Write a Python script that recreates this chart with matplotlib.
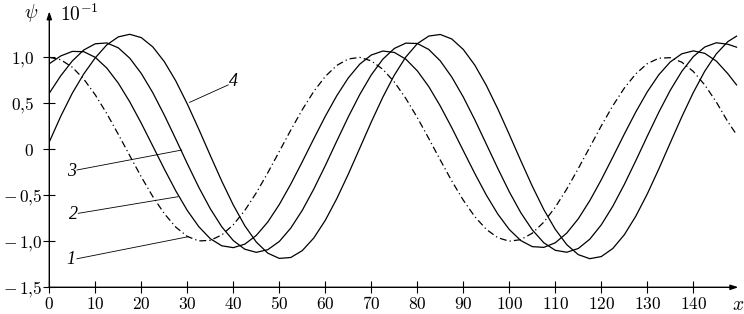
import matplotlib
matplotlib.use('Agg')
import matplotlib.pyplot as plt
import matplotlib.transforms as mtransforms
import numpy as np

plt.rcParams['mathtext.fontset'] = 'cm'
plt.rcParams['font.family'] = 'DejaVu Serif'

# sample points along x, every 2.5 units
x = list(np.arange(0, 150, 2.5)) + [149.4]

# curve 1 (dash-dot)
psi_1 = [1.000, 0.973, 0.892, 0.763, 0.591, 0.388, 0.163, -0.070, -0.300, -0.514,
         -0.699, -0.846, -0.947, -0.996, -0.990, -0.931, -0.820, -0.665, -0.473, -0.255,
         -0.023, 0.209, 0.431, 0.629, 0.792, 0.912, 0.982, 0.999, 0.961, 0.870,
         0.732, 0.553, 0.345, 0.117, -0.117, -0.345, -0.553, -0.732, -0.870, -0.961,
         -0.999, -0.982, -0.912, -0.792, -0.629, -0.431, -0.209, 0.023, 0.255, 0.473,
         0.665, 0.820, 0.931, 0.990, 0.996, 0.947, 0.846, 0.699, 0.514, 0.300,
         0.160]
# curve 2
psi_2 = [0.930, 1.015, 1.064, 1.061, 0.999, 0.883, 0.719, 0.515, 0.283, 0.035,
         -0.214, -0.452, -0.665, -0.841, -0.972, -1.049, -1.069, -1.031, -0.936, -0.790,
         -0.600, -0.378, -0.135, 0.115, 0.359, 0.583, 0.776, 0.926, 1.025, 1.068,
         1.053, 0.980, 0.853, 0.681, 0.470, 0.234, -0.015, -0.263, -0.497, -0.704,
         -0.872, -0.992, -1.058, -1.066, -1.016, -0.910, -0.755, -0.558, -0.331, -0.085,
         0.165, 0.406, 0.625, 0.810, 0.950, 1.038, 1.070, 1.043, 0.959, 0.822,
         0.700]
# curve 3
psi_3 = [0.610, 0.800, 0.960, 1.080, 1.147, 1.156, 1.103, 0.990, 0.824, 0.615,
         0.372, 0.111, -0.156, -0.413, -0.646, -0.843, -0.992, -1.086, -1.120, -1.091,
         -1.002, -0.856, -0.663, -0.432, -0.177, 0.090, 0.352, 0.596, 0.809, 0.979,
         1.096, 1.154, 1.150, 1.085, 0.961, 0.785, 0.568, 0.321, 0.057, -0.208,
         -0.462, -0.689, -0.876, -1.016, -1.098, -1.119, -1.078, -0.977, -0.821, -0.619,
         -0.382, -0.124, 0.143, 0.403, 0.642, 0.847, 1.007, 1.112, 1.158, 1.142,
         1.110]
# curve 4
psi_4 = [0.080, 0.360, 0.610, 0.820, 0.995, 1.135, 1.222, 1.250, 1.214, 1.113,
         0.953, 0.743, 0.493, 0.218, -0.067, -0.347, -0.606, -0.831, -1.008, -1.129,
         -1.186, -1.176, -1.101, -0.964, -0.772, -0.536, -0.270, 0.013, 0.297, 0.566,
         0.806, 1.003, 1.148, 1.231, 1.248, 1.199, 1.085, 0.915, 0.695, 0.439,
         0.161, -0.124, -0.401, -0.655, -0.870, -1.037, -1.145, -1.189, -1.166, -1.078,
         -0.929, -0.727, -0.485, -0.214, 0.071, 0.353, 0.617, 0.850, 1.037, 1.170,
         1.230]

xticks = list(range(0, 150, 10))
yticks = [-1.5, -1.0, -0.5, 0, 0.5, 1.0]
ytick_labels = [r'$-\,1{,}5$', r'$-\,1{,}0$', r'$-\,0{,}5$',
                '$0$', '$0{,}5$', '$1{,}0$']

# curve labels: text position and leader line (from, to)
labels = ['1', '2', '3', '4']
label_pos = [(4.7, -1.20), (5.2, -0.71), (4.9, -0.24), (40.0, 0.735)]
leader_from = [(6.0, -1.19), (6.3, -0.696), (6.0, -0.225), (38.9, 0.70)]
leader_to = [(30.2, -0.95), (28.0, -0.515), (28.8, -0.008), (30.5, 0.51)]

fig = plt.figure(figsize=(7.44, 3.14), dpi=100)
ax = fig.add_axes([49.3 / 744, 26.7 / 314, 690 / 744, 276 / 314])

ax.plot(x, psi_1, color='black', lw=0.9, linestyle=(0, (5.5, 2.5, 1, 2.5)))
for y in (psi_2, psi_3, psi_4):
    ax.plot(x, y, color='black', lw=0.9, solid_joinstyle='round')

for lab, p, a, b in zip(labels, label_pos, leader_from, leader_to):
    ax.plot([a[0], b[0]], [a[1], b[1]], color='black', lw=0.6)
    ax.text(p[0], p[1], lab, fontsize=13, fontstyle='italic',
            family='Liberation Serif', ha='center', va='center')

ax.set_xlim(0, 150)
ax.set_ylim(-1.5, 1.5)
for s in ax.spines.values():
    s.set_visible(False)

# axes with arrow heads
arrow = dict(arrowstyle='-|>,head_length=0.45,head_width=0.15', color='black',
             lw=1.0, mutation_scale=10, shrinkA=0, shrinkB=0)
ax.annotate('', xy=(149.8, -1.5), xytext=(0, -1.5), arrowprops=arrow,
            annotation_clip=False)
ax.annotate('', xy=(0, 1.5), xytext=(0, -1.5), arrowprops=arrow,
            annotation_clip=False)

ax.set_xticks(xticks)
ax.set_xticklabels(['$%d$' % t for t in xticks])
ax.set_yticks(yticks)
ax.tick_params(direction='inout', length=8, width=0.8, labelsize=12.5, pad=2)
ax.tick_params(axis='y', labelleft=False)

# y labels: negative ones sit close to the tick, positive ones further left
for v, lab in zip(yticks, ytick_labels):
    off = -7 if v < 0 else -15
    tr = ax.get_yaxis_transform() + mtransforms.ScaledTranslation(off / 100, 0, fig.dpi_scale_trans)
    ax.text(0, v, lab, transform=tr, fontsize=12.5, ha='right', va='center_baseline')

ax.text(-4.0, 1.478, r'$\psi$', fontsize=14, ha='center', va='center')
ax.text(2.3, 1.47, r'$10^{-1}$', fontsize=14, ha='left', va='center')
ax.text(149.7, -1.69, r'$x$', fontsize=14, ha='center', va='center')

fig.savefig('out.png', dpi=100)
